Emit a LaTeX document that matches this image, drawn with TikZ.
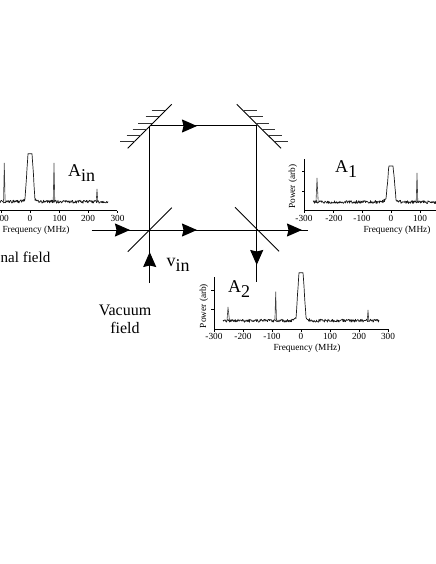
\documentclass[tikz,border=0pt]{standalone}
\usepackage{fontspec}
\setmainfont{Liberation Serif}
\usetikzlibrary{arrows.meta,decorations.markings}
\tikzset{
  beam/.style={line width=1bp,black},
  marr/.style={postaction={decorate},decoration={markings,mark=at position #1 with {\arrow{Stealth[length=15bp,width=13bp,inset=1.5bp]}}}},
  mirror/.style={line width=0.9bp,black},
  hatch/.style={line width=0.9bp,black!80},
  axisline/.style={line width=0.6bp,black},
  spec/.style={line width=0.7bp,black!90,line join=round},
  peak/.style={line width=0.6bp,black!75},
  tick/.style={font=\fontsize{9.3bp}{10bp}\selectfont,anchor=base,inner sep=0pt},
  big/.style={font=\fontsize{18bp}{20bp}\selectfont,anchor=base west,inner sep=0pt},
  lab/.style={font=\fontsize{16bp}{18bp}\selectfont,anchor=base,inner sep=0pt},
}
% x0 x1 base centre H
\newcommand{\spectrumline}[5]{%
  \draw[spec] plot[domain=#1:#2,samples=\numexpr(#2-#1)*2+1\relax]
   ({\x},{#3-min(#5,1.5*(rnd-0.5)*2+
      1.6*#5*max(0,1-abs(\x-#4)/5)+4*max(0,1-abs(\x-#4)/10))});}
\begin{document}
\begin{tikzpicture}[x=1bp,y=-1bp]
\useasboundingbox (0,0) rectangle (436,564);
\pgfmathsetseed{7}
% beam points
\coordinate (in) at (91.7,230);
\coordinate (bsL) at (149.7,230);
\coordinate (bsR) at (256.7,230);
\coordinate (mTL) at (149.7,126);
\coordinate (mTR) at (256.7,126);
\coordinate (out) at (308,230);
\coordinate (down) at (256.7,282);
\coordinate (vac) at (149.7,283);
% beams
\draw[beam,marr=38.3bp] (in) -- (bsL);
\draw[beam,marr=47.3bp] (bsL) -- (bsR);
\draw[beam,marr=45.3bp] (bsR) -- (out);
\draw[beam] (bsL) -- (mTL);
\draw[beam,marr=47.3bp] (mTL) -- (mTR);
\draw[beam] (mTR) -- (bsR);
\draw[beam,marr=35bp] (bsR) -- (down);
\draw[beam,marr=31bp] (vac) -- (bsL);
% mirrors and beam splitters
\draw[mirror] (127.7,148.3) -- (171.7,104.3);
\draw[mirror] (236.7,104.3) -- (281,148.3);
\draw[mirror] (127.7,251.7) -- (171.7,207.7);
\draw[mirror] (235,207.3) -- (279,251.3);
\foreach \a/\b/\y in {120/135/141.7,126.5/141/135.3,132.7/146.7/129,138.3/151.7/123,145.7/159.3/116.7,151.7/165/110.7}{
  \draw[hatch] (\a,\y) -- (\b,\y);}
\foreach \a/\b/\y in {244/257.3/110.7,249.3/262.7/116.7,255/269.3/123,261.7/275/129.3,268.3/281.7/135.3,275/288.3/141.7}{
  \draw[hatch] (\a,\y) -- (\b,\y);}
% left spectrum
\draw[axisline] (0,210.7) -- (117,210.7);
\foreach \x in {1,30,59,88,117}{\draw[axisline] (\x,210.7) -- (\x,213);}
\node[tick,anchor=base east] (l0) at (9,221) {00};
\node[tick] (l1) at (30,221) {0};
\node[tick] (l2) at (59.5,221) {100};
\node[tick] (l3) at (88,221) {200};
\node[tick] (l4) at (117.5,221) {300};
\node[tick] (lf) at (36,232) {Frequency (MHz)};
\spectrumline{0}{108}{201.7}{30}{48}
\draw[peak] (3.5,201.7) -- (4.3,163) -- (5.1,201.7);
\draw[peak] (53.2,201.7) -- (54,163) -- (54.8,201.7);
\draw[peak] (96.2,201.7) -- (97,189) -- (97.8,201.7);
% right spectrum
\draw[axisline] (304.3,159) -- (304.3,210.7) -- (436,210.7);
\foreach \y in {171.7,191}{\draw[axisline] (304.3,\y) -- (301.5,\y);}
\foreach \x in {304.3,333.3,362.3,391.3,420.3}{\draw[axisline] (\x,210.7) -- (\x,213);}
\node[tick] (r0) at (304,221) {-300};
\node[tick] (r1) at (334,221) {-200};
\node[tick] (r2) at (362,221) {-100};
\node[tick] (r3) at (391,221) {0};
\node[tick] (r4) at (420,221) {100};
\node[tick] (rf) at (397,232) {Frequency (MHz)};
\node[tick,rotate=90,anchor=center] (rp) at (293,186.6) {Power (arb)};
\spectrumline{313}{436}{202}{391}{36}
\draw[peak] (316,202) -- (317,178) -- (318.2,202);
\draw[peak] (416.2,202) -- (417,173) -- (417.8,202);
% bottom spectrum
\draw[axisline] (214,277) -- (214,329.3) -- (388,329.3);
\foreach \y in {290,309.3}{\draw[axisline] (214,\y) -- (211.2,\y);}
\foreach \x in {214,243,272,301,330,359,388}{\draw[axisline] (\x,329.3) -- (\x,331.6);}
\node[tick] (b0) at (214,339.5) {-300};
\node[tick] (b1) at (243,339.5) {-200};
\node[tick] (b2) at (272,339.5) {-100};
\node[tick] (b3) at (301,339.5) {0};
\node[tick] (b4) at (330,339.5) {100};
\node[tick] (b5) at (359,339.5) {200};
\node[tick] (b6) at (388,339.5) {300};
\node[tick] (bf) at (307,350) {Frequency (MHz)};
\node[tick,rotate=90,anchor=center] (bp) at (204,306) {Power (arb)};
\spectrumline{223}{379}{320.7}{301}{48}
\draw[peak] (227,320.7) -- (228,307) -- (229.5,320.7);
\draw[peak] (274.9,320.7) -- (275.7,291.7) -- (276.5,320.7);
\draw[peak] (367.2,320.7) -- (368,310) -- (368.8,320.7);
% labels
\node[big] (ain) at (68,176.7) {A\raisebox{-5bp}{in}};
\node[big] (a1) at (335,172.3) {A\raisebox{-5bp}{1}};
\node[big] (a2) at (228,292) {A\raisebox{-5bp}{2}};
\node[big] (vin) at (166.5,266.7) {v\raisebox{-5bp}{in}};
\node[lab,anchor=base west,font=\fontsize{15bp}{18bp}\selectfont] (sig) at (0.5,262.7) {nal field};
\node[lab] (vf1) at (125,315) {Vacuum};
\node[lab] (vf2) at (125,333) {field};
\end{tikzpicture}
\end{document}
